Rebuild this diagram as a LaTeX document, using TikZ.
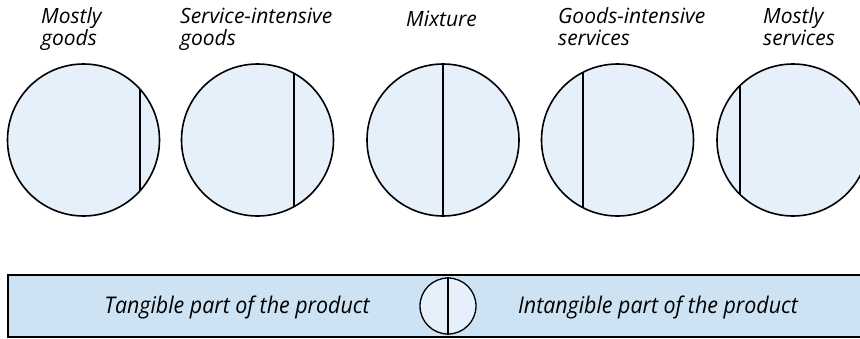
\documentclass[tikz,border=0pt]{standalone}
\usepackage{fontspec}
\setmainfont{Open Sans}
\usetikzlibrary{calc}
\definecolor{circfill}{HTML}{E5F0FA}
\definecolor{boxfill}{HTML}{CDE3F3}
\begin{document}
\begin{tikzpicture}[x=1pt,y=-1pt,
  disc/.style={circle,draw=black,line width=1.6pt,fill=circfill,minimum size=152pt,inner sep=0pt},
  divider/.style={line width=1.6pt},
  lbl/.style={anchor=base west,align=left,font=\fontsize{21}{22.5}\selectfont\itshape,inner sep=0pt},
  boxtxt/.style={anchor=base,font=\fontsize{23}{24}\selectfont\itshape,inner sep=0pt}]
\useasboundingbox (0,0) rectangle (860,338);
% labels (anchored at the baseline of their last line)
\node[lbl] (l1) at (41,45.5) {Mostly\\goods};
\node[lbl] (l2) at (180,45.5) {Service-intensive\\goods};
\node[lbl] (l3) at (406,26) {Mixture};
\node[lbl] (l4) at (558,45.5) {Goods-intensive\\services};
\node[lbl] (l5) at (763,45.5) {Mostly\\services};
% circles with dividers
\foreach \n/\cx/\d in {c1/83.5/56.5, c2/257.5/36.5, c3/443/0, c4/617.5/-34.5, c5/793/-53}{
  \node[disc] (\n) at (\cx,140) {};
  \pgfmathsetmacro{\h}{sqrt(76*76-\d*\d)}
  \draw[divider] ($(\n.center)+(\d,-\h)$) -- ($(\n.center)+(\d,\h)$);
}
% legend box
\draw[line width=1.3pt,fill=boxfill] (8,275) rectangle (861,337);
\node[circle,draw=black,line width=1.3pt,fill=circfill,minimum size=56pt,inner sep=0pt] (k) at (448,306) {};
\draw[divider] (k.north) -- (k.south);
\node[boxtxt] (t1) at (237,313) {\scalebox{0.93}[1]{Tangible part of the product}};
\node[boxtxt] (t2) at (658,313) {\scalebox{0.93}[1]{Intangible part of the product}};
\end{tikzpicture}
\end{document}
